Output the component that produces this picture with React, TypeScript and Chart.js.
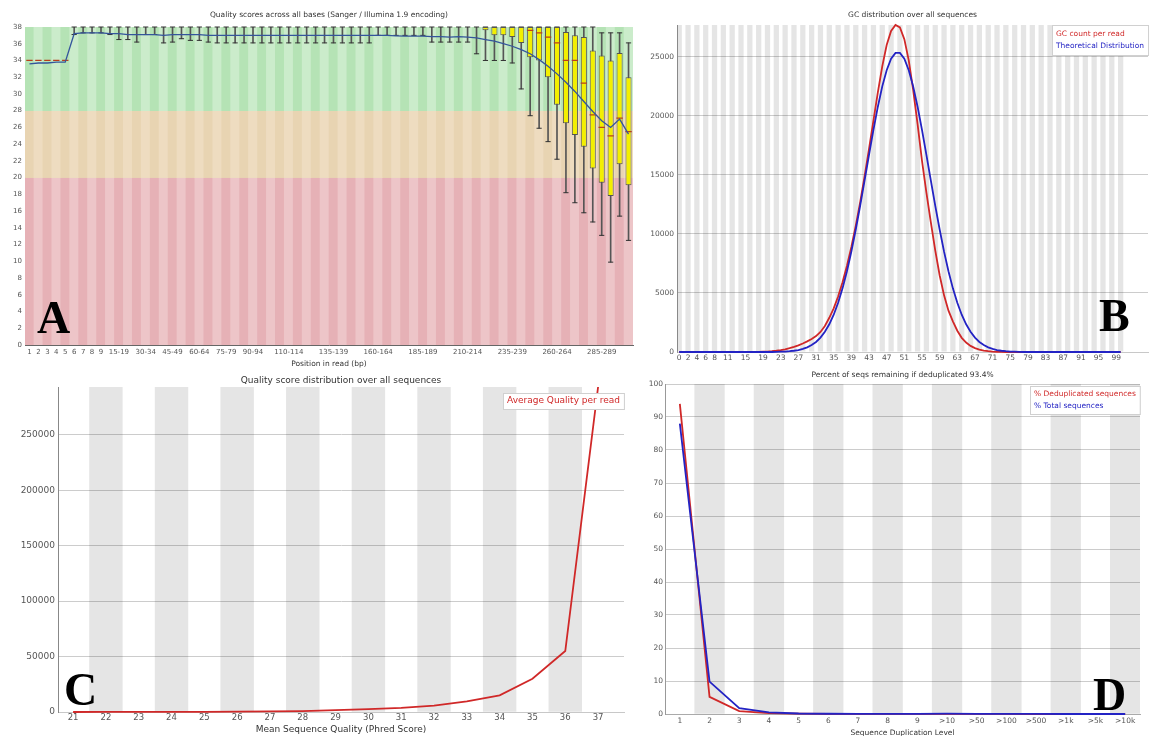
import React, { useEffect, useRef } from 'react';
import { Chart, registerables } from 'chart.js';

Chart.register(...registerables);
const FONT = '"DejaVu Sans", sans-serif';
Chart.defaults.font.family = FONT;
Chart.defaults.color = '#555';

// ---------------- Panel A: per-base quality ----------------
const positionLabels = ['1','2','3','4','5','6','7','8','9','10-14','15-19','20-24','25-29','30-34','35-39','40-44','45-49','50-54','55-59','60-64','65-69','70-74','75-79','80-84','85-89','90-94','95-99','100-104','105-109','110-114','115-119','120-124','125-129','130-134','135-139','140-144','145-149','150-154','155-159','160-164','165-169','170-174','175-179','180-184','185-189','190-194','195-199','200-204','205-209','210-214','215-219','220-224','225-229','230-234','235-239','240-244','245-249','250-254','255-259','260-264','265-269','270-274','275-279','280-284','285-289','290-294','295-299','300-301'];
const positionTicksShown = ['1','2','3','4','5','6','7','8','9','15-19','30-34','45-49','60-64','75-79','90-94','110-114','135-139','160-164','185-189','210-214','235-239','260-264','285-289'];
const zonePoor = [0, 20];
const zoneFair = [20, 28];
const zoneGood = [28, 38];
const meanQuality = [33.6,33.7,33.7,33.8,33.8, 37.2,37.3,37.3,37.3,37.2, 37.2,37.1,37.1,37.1,37.1, 37.0,37.1,37.1,37.1,37.1, 37.0,37.0,37.0,37.0,37.0, 37.0,37.0,37.0,37.0,37.0, 37.0,37.0,37.0,37.0,37.0, 37.0,37.0,37.0,37.0,37.0, 37.0,36.95,36.9,36.9,36.9, 36.85,36.85,36.8,36.85,36.8, 36.7,36.5,36.3,36.0,35.7, 35.3,34.8,34.1,33.3,32.4, 31.4,30.3,29.1,27.9,26.8, 26.0,27.0,25.2];
const whiskerLow = [null,null,null,null,null, 37.1,37.3,37.3,37.3,37.1, 36.5,36.5,36.2,37.1,37.1, 36.1,36.2,36.6,36.4,36.4, 36.2,36.1,36.1,36.1,36.1, 36.1,36.1,36.1,36.1,36.1, 36.1,36.1,36.1,36.1,36.1, 36.1,36.1,36.1,36.1,37.0, 37.0,37.0,37.0,37.0,37.0, 36.2,36.2,36.2,36.2,36.2, 34.8,34.0,34.0,34.0,33.7, 30.6,27.4,25.9,24.3,22.2, 18.2,17.0,15.8,14.7,13.1, 9.9,15.4,12.5];
const whiskerHigh = [null,null,null,null,null, 38,38,38,38,38, 38,38,38,38,38, 38,38,38,38,38, 38,38,38,38,38, 38,38,38,38,38, 38,38,38,38,38, 38,38,38,38,38, 38,38,38,38,38, 38,38,38,38,38, 38,38,38,38,38, 38,38,38,38,38, 38,38,38,38,37.3, 37.3,37.3,36.1];
const boxLow = [null,null,null,null,null, null,null,null,null,null, null,null,null,null,null, null,null,null,null,null, null,null,null,null,null, null,null,null,null,null, null,null,null,null,null, null,null,null,null,null, null,null,null,null,null, null,null,null,null,null, null,37.6,37.0,37.0,36.8, 36.1,34.4,34.0,32.0,28.7, 26.5,25.1,23.7,21.1,19.4, 17.8,21.6,19.1];
const boxHigh = [null,null,null,null,null, null,null,null,null,null, null,null,null,null,null, null,null,null,null,null, null,null,null,null,null, null,null,null,null,null, null,null,null,null,null, null,null,null,null,null, null,null,null,null,null, null,null,null,null,null, null,38,38,38,38, 38,38,38,38,38, 37.4,37.0,36.8,35.2,34.6, 34.0,34.9,32.0];
const medianQuality = [34,34,34,34,34, null,null,null,null,null, null,null,null,null,null, null,null,null,null,null, null,null,null,null,null, null,null,null,null,null, null,null,null,null,null, null,null,null,null,null, null,null,null,null,null, null,null,null,null,null, null,null,null,null,null, null,37.6,37.3,36.8,36.1, 34.0,34.0,31.3,27.5,26.0, 25.0,27.1,25.5];

// ---------------- Panel B: GC distribution ----------------
const gcTicks = [0,2,4,6,8,11,15,19,23,27,31,35,39,43,47,51,55,59,63,67,71,75,79,83,87,91,95,99];
const gcCountTicks = [0,5000,10000,15000,20000,25000];
const gcCountPerRead = [0,0,0,0,0,0,0,0,0,0, 0,0,0,0,0,0,0,0,0,20, 40,70,110,160,230,320,430,560,720,900, 1100,1350,1700,2200,2900,3700,4700,5900,7300,8900, 10700,12700,14900,17200,19600,22000,24200,26000,27200,27700, 27500,26500,24700,22200,19300,16200,13500,11000,8600,6500, 4800,3500,2600,1800,1200,800,520,330,200,120, 70,35,15,5,0,0,0,0,0,0, 0,0,0,0,0,0,0,0,0,0, 0,0,0,0,0,0,0,0,0,0, 0];
const gcTheoretical = [0,0,0,0,0,0,0,0,0,0, 0,0,0,0,0,0,0,0,0,0, 0,0,14,24,40,66,107,168,260,395, 585,850,1215,1710,2350,3160,4170,5390,6840,8500, 10380,12400,14540,16700,18820,20780,22500,23870,24840,25340, 25340,24840,23870,22500,20780,18820,16700,14540,12400,10380, 8500,6840,5390,4170,3160,2350,1710,1215,850,585, 395,260,168,107,66,40,24,14,0,0, 0,0,0,0,0,0,0,0,0,0, 0,0,0,0,0,0,0,0,0,0, 0];
const gcPercent = gcCountPerRead.map((_, i) => i);

// ---------------- Panel C: per-sequence quality ----------------
const phredScores = [21,22,23,24,25,26,27,28,29,30,31,32,33,34,35,36,37];
const qualityCountTicks = [0,50000,100000,150000,200000,250000];
const avgQualityCounts = [0,30,60,100,180,300,500,800,1600,2600,3800,5800,9500,15000,30000,55000,293000];

// ---------------- Panel D: duplication levels ----------------
const dupLevels = ['1','2','3','4','5','6','7','8','9','>10','>50','>100','>500','>1k','>5k','>10k'];
const dedupPercent = [94,5.2,0.9,0.25,0.1,0.05,0.03,0.02,0.02,0.05,0.02,0.01,0,0,0,0];
const totalPercent = [88,9.8,1.8,0.5,0.15,0.08,0.05,0.04,0.03,0.1,0.05,0.02,0.01,0,0,0];

const boxLegend: any = {
  id: 'boxLegend',
  afterDatasetsDraw(chart: any, _a: any, opts: any) {
    if (!opts || !opts.show) return;
    const { ctx, chartArea } = chart;
    const items = opts.datasets.map((i: number) => ({ text: chart.data.datasets[i].label, color: chart.data.datasets[i].borderColor }));
    ctx.save();
    ctx.font = `${opts.fontSize}px ${FONT}`;
    const w = Math.max(...items.map((it: any) => ctx.measureText(it.text).width)) + opts.padX * 2;
    const h = items.length * opts.lineHeight + opts.padY * 2;
    const x = Math.round(chartArea.right - w - opts.right);
    const y = Math.round(chartArea.top + opts.top);
    ctx.fillStyle = '#ffffff';
    ctx.fillRect(x, y, w, h);
    ctx.strokeStyle = '#d0d0d0';
    ctx.lineWidth = 1;
    ctx.strokeRect(x + 0.5, y + 0.5, w, h);
    ctx.textBaseline = 'middle';
    ctx.textAlign = 'left';
    items.forEach((it: any, k: number) => {
      ctx.fillStyle = it.color;
      ctx.fillText(it.text, x + opts.padX, y + opts.padY + opts.lineHeight * (k + 0.5));
    });
    ctx.restore();
  },
};

const panelLetter: any = {
  id: 'panelLetter',
  afterDraw(chart: any, _a: any, opts: any) {
    if (!opts || !opts.text) return;
    const { ctx } = chart;
    ctx.save();
    ctx.font = `bold ${opts.size}px "Liberation Serif", serif`;
    ctx.fillStyle = '#000';
    ctx.textBaseline = 'alphabetic';
    ctx.textAlign = 'left';
    ctx.fillText(opts.text, opts.x, opts.y);
    ctx.restore();
  },
};

const common = {
  responsive: false,
  animation: false,
  devicePixelRatio: 1,
  events: [],
};

function titleOpts(text: string, size: number, top: number, bottom: number) {
  return { display: true, text, fullSize: false, color: '#333', font: { size, weight: 'normal', family: FONT }, padding: { top, bottom } };
}

function stripe(dark: string, light: string) {
  return positionLabels.map((_, i) => (i % 2 === 0 ? dark : light));
}

function configA(): any {
  const shown = new Set(positionTicksShown);
  return {
    type: 'bar',
    data: {
      labels: positionLabels,
      datasets: [
        { type: 'line', label: 'Mean', data: meanQuality, borderColor: '#34559c', borderWidth: 1.3, pointRadius: 0, order: 1, clip: 3 },
        { type: 'line', label: 'Median', data: medianQuality, showLine: false, pointStyle: 'line', pointRadius: 3.2, pointBorderColor: '#b8401c', pointBackgroundColor: '#b8401c', pointBorderWidth: 1.3, order: 2 },
        { type: 'bar', label: 'IQR', data: positionLabels.map((_, i) => (boxLow[i] == null ? null : [boxLow[i], boxHigh[i]])), backgroundColor: '#f3ef00', borderColor: '#555', borderWidth: 1, borderSkipped: false, barPercentage: 0.68, categoryPercentage: 1, grouped: false, order: 3 },
        { type: 'line', label: 'Upper', data: whiskerHigh, showLine: false, pointStyle: 'line', pointRadius: 2.6, pointBorderColor: '#333', pointBorderWidth: 1, order: 4, clip: false },
        { type: 'line', label: 'Lower', data: whiskerLow, showLine: false, pointStyle: 'line', pointRadius: 2.6, pointBorderColor: '#333', pointBorderWidth: 1, order: 4, clip: false },
        { type: 'bar', label: 'Whisker', data: positionLabels.map((_, i) => (whiskerLow[i] == null ? null : [whiskerLow[i], whiskerHigh[i]])), backgroundColor: '#555', barThickness: 1, grouped: false, order: 5 },
        { type: 'bar', label: 'Good', data: positionLabels.map(() => zoneGood), backgroundColor: stripe('#b5e3b5', '#cbeccb'), barPercentage: 1, categoryPercentage: 1, grouped: false, order: 10 },
        { type: 'bar', label: 'Fair', data: positionLabels.map(() => zoneFair), backgroundColor: stripe('#e8d4b2', '#eedcc0'), barPercentage: 1, categoryPercentage: 1, grouped: false, order: 10 },
        { type: 'bar', label: 'Poor', data: positionLabels.map(() => zonePoor), backgroundColor: stripe('#e6b1b6', '#edc5c8'), barPercentage: 1, categoryPercentage: 1, grouped: false, order: 10 },
      ],
    },
    options: {
      ...common,
      layout: { padding: { left: 0, right: 7, top: 0, bottom: 0 } },
      plugins: {
        legend: { display: false },
        tooltip: { enabled: false },
        title: titleOpts('Quality scores across all bases (Sanger / Illumina 1.9 encoding)', 7.5, 10.5, 7.5),
        panelLetter: { text: 'A', size: 46, x: 37, y: 333 },
      },
      scales: {
        x: {
          grid: { display: false, drawTicks: false },
          border: { display: true, color: '#666' },
          ticks: { autoSkip: false, maxRotation: 0, minRotation: 0, font: { size: 7 }, padding: 3, callback: (_v: any, i: number) => (shown.has(positionLabels[i]) ? positionLabels[i] : '') },
          title: { display: true, text: 'Position in read (bp)', color: '#333', font: { size: 7.5 }, padding: { top: 0, bottom: 3.5 } },
          afterFit: (s: any) => { s.height = 27; },
        },
        y: {
          min: 0, max: 38,
          grid: { display: false, drawTicks: false },
          border: { display: true, color: '#666' },
          ticks: { stepSize: 2, font: { size: 7 }, padding: 3 },
          afterFit: (s: any) => { s.width = 25; },
        },
      },
    },
    plugins: [panelLetter],
  };
}

function configB(): any {
  const gcMax = Math.max(...gcCountPerRead);
  return {
    type: 'bar',
    data: {
      datasets: [
        { type: 'line', label: 'Theoretical Distribution', data: gcPercent.map((x, i) => ({ x, y: gcTheoretical[i] })), borderColor: '#2323c4', borderWidth: 1.8, pointRadius: 0, order: 1, clip: 3 },
        { type: 'line', label: 'GC count per read', data: gcPercent.map((x, i) => ({ x, y: gcCountPerRead[i] })), borderColor: '#d02828', borderWidth: 1.8, pointRadius: 0, order: 2, clip: 3 },
        { type: 'bar', label: 'stripes', data: gcPercent.filter((x) => x % 2 === 0).map((x) => ({ x, y: [0, gcMax] })), backgroundColor: 'rgba(0,0,0,0.1)', barPercentage: 0.6, categoryPercentage: 1, grouped: false, order: 10 },
      ],
    },
    options: {
      ...common,
      layout: { padding: { left: 0, right: 7, top: 0, bottom: 0 } },
      plugins: {
        legend: { display: false },
        tooltip: { enabled: false },
        title: titleOpts('GC distribution over all sequences', 7.5, 11, 5),
        boxLegend: { show: true, datasets: [1, 0], fontSize: 7.5, lineHeight: 12, padX: 4, padY: 3, top: 0, right: 0 },
        panelLetter: { text: 'B', size: 46, x: 459, y: 331 },
      },
      scales: {
        x: {
          type: 'linear', min: -0.5, max: 106.2, offset: false,
          afterBuildTicks: (s: any) => { s.ticks = gcTicks.map((v) => ({ value: v })); },
          grid: { display: false, drawTicks: false },
          border: { display: true, color: '#c8c8c8' },
          ticks: { autoSkip: false, maxRotation: 0, font: { size: 7.5 }, padding: 2, callback: (v: any) => String(v) },
          afterFit: (s: any) => { s.height = 20; },
        },
        y: {
          min: 0, max: gcMax,
          afterBuildTicks: (s: any) => { s.ticks = gcCountTicks.map((v) => ({ value: v })); },
          grid: { color: '#cccccc', drawTicks: false },
          border: { display: true, color: '#999' },
          ticks: { font: { size: 7.5 }, padding: 3, callback: (v: any) => String(v) },
          afterFit: (s: any) => { s.width = 37; },
        },
      },
    },
    plugins: [boxLegend, panelLetter],
  };
}

function configC(): any {
  const cMax = Math.max(...avgQualityCounts);
  return {
    type: 'bar',
    data: {
      datasets: [
        { type: 'line', label: 'Average Quality per read', data: phredScores.map((x, i) => ({ x, y: avgQualityCounts[i] })), borderColor: '#d02828', borderWidth: 1.8, pointRadius: 0, order: 1, clip: 3 },
        { type: 'bar', label: 'stripes', data: phredScores.filter((x) => x % 2 === 0).map((x) => ({ x, y: [0, cMax] })), backgroundColor: 'rgba(0,0,0,0.1)', barPercentage: 1, categoryPercentage: 1, grouped: false, order: 10 },
      ],
    },
    options: {
      ...common,
      layout: { padding: { left: 0, right: 1, top: 0, bottom: 0 } },
      plugins: {
        legend: { display: false },
        tooltip: { enabled: false },
        title: titleOpts('Quality score distribution over all sequences', 9, 9.6, 0.6),
        boxLegend: { show: true, datasets: [0], fontSize: 9, lineHeight: 14, padX: 4, padY: 1, top: 6, right: 0 },
        panelLetter: { text: 'C', size: 46, x: 64, y: 339 },
      },
      scales: {
        x: {
          type: 'linear', min: 20.54, max: 37.79, offset: false,
          afterBuildTicks: (s: any) => { s.ticks = phredScores.map((v) => ({ value: v })); },
          grid: { display: false, drawTicks: false },
          border: { display: true, color: '#c8c8c8' },
          ticks: { autoSkip: false, maxRotation: 0, font: { size: 8.5 }, padding: 1, callback: (v: any) => String(v) },
          title: { display: true, text: 'Mean Sequence Quality (Phred Score)', color: '#333', font: { size: 9 }, padding: { top: 0, bottom: 0.6 } },
          afterFit: (s: any) => { s.height = 24; },
        },
        y: {
          min: 0, max: cMax,
          afterBuildTicks: (s: any) => { s.ticks = qualityCountTicks.map((v) => ({ value: v })); },
          grid: { color: '#cccccc', drawTicks: false },
          border: { display: true, color: '#888' },
          ticks: { font: { size: 9 }, padding: 3, callback: (v: any) => String(v) },
          afterFit: (s: any) => { s.width = 58; },
        },
      },
    },
    plugins: [boxLegend, panelLetter],
  };
}

function configD(): any {
  return {
    type: 'bar',
    data: {
      labels: dupLevels,
      datasets: [
        { type: 'line', label: '% Total sequences', data: totalPercent, borderColor: '#2323c4', borderWidth: 1.8, pointRadius: 0, order: 1, clip: 3 },
        { type: 'line', label: '% Deduplicated sequences', data: dedupPercent, borderColor: '#d02828', borderWidth: 1.8, pointRadius: 0, order: 2, clip: 3 },
        { type: 'bar', label: 'stripes', data: dupLevels.map((_, i) => (i % 2 === 1 ? [0, 100] : null)), backgroundColor: 'rgba(0,0,0,0.1)', barPercentage: 1, categoryPercentage: 1, grouped: false, order: 10 },
      ],
    },
    options: {
      ...common,
      layout: { padding: { left: 0, right: 15, top: 0, bottom: 0 } },
      plugins: {
        legend: { display: false },
        tooltip: { enabled: false },
        title: titleOpts('Percent of seqs remaining if deduplicated 93.4%', 7.5, 5, 4),
        boxLegend: { show: true, datasets: [1, 0], fontSize: 7.5, lineHeight: 12, padX: 4, padY: 2, top: 2, right: 0 },
        panelLetter: { text: 'D', size: 46, x: 468, y: 344 },
      },
      scales: {
        x: {
          grid: { display: false, drawTicks: false },
          border: { display: true, color: '#aaa' },
          ticks: { autoSkip: false, maxRotation: 0, font: { size: 7.5 }, padding: 2.5 },
          title: { display: true, text: 'Sequence Duplication Level', color: '#333', font: { size: 7.5 }, padding: { top: 0, bottom: 4.5 } },
          afterFit: (s: any) => { s.height = 28; },
        },
        y: {
          min: 0, max: 100,
          grid: { color: '#cccccc', drawTicks: false },
          border: { display: true, color: '#999' },
          ticks: { stepSize: 10, font: { size: 7.5 }, padding: 2 },
          afterFit: (s: any) => { s.width = 40; },
        },
      },
    },
    plugins: [boxLegend, panelLetter],
  };
}

export default function App() {
  const aRef = useRef<HTMLCanvasElement>(null);
  const bRef = useRef<HTMLCanvasElement>(null);
  const cRef = useRef<HTMLCanvasElement>(null);
  const dRef = useRef<HTMLCanvasElement>(null);

  useEffect(() => {
    const charts = [
      new Chart(aRef.current as any, configA()),
      new Chart(bRef.current as any, configB()),
      new Chart(cRef.current as any, configC()),
      new Chart(dRef.current as any, configD()),
    ];
    return () => charts.forEach((c) => c.destroy());
  }, []);

  const cs = (left: number, top: number, w: number, h: number): any => ({ position: 'absolute', left, top, width: w, height: h });

  return (
    <div style={{ position: 'absolute', left: 0, top: 0, width: 1155, height: 736, overflow: 'hidden', background: '#fff' }}>
      <canvas ref={aRef} width={640} height={372} style={cs(0, 0, 640, 372)} />
      <canvas ref={bRef} width={515} height={372} style={cs(640, 0, 515, 372)} />
      <canvas ref={cRef} width={625} height={370} style={cs(0, 366, 625, 370)} />
      <canvas ref={dRef} width={530} height={376} style={cs(625, 366, 530, 376)} />
    </div>
  );
}
